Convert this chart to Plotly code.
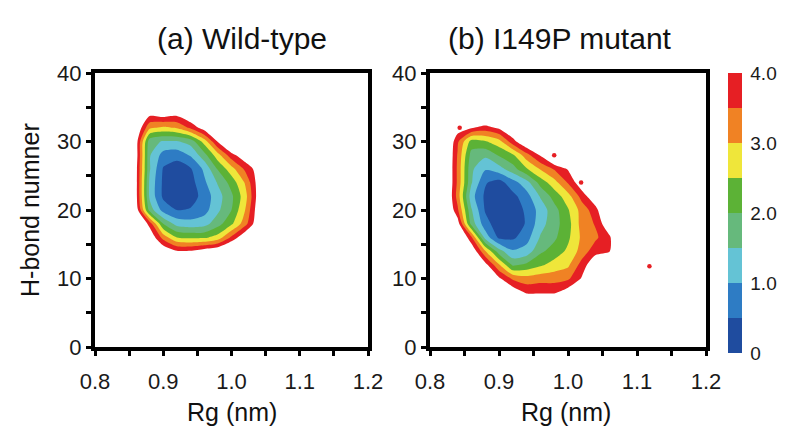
import numpy as np
import plotly.graph_objects as go

# ---------------- data ----------------
# Panel (a) Wild-type: free energy (kT) on a grid of Rg (nm) x H-bond number
rg_a = [0.84, 0.86, 0.88, 0.90, 0.92, 0.94, 0.96, 0.98, 1.00, 1.02, 1.04, 1.06]
hb_a = [12, 14, 16, 18, 20, 22, 24, 26, 28, 30, 32, 34, 36]
fe_a = [
    [5, 5, 5, 5, 5, 5, 5, 5, 5, 5, 5, 5],                                   # 12
    [5, 5, 5, 4.5, 4.05, 4.05, 4.3, 4.5, 5, 5, 5, 5],                       # 14
    [5, 5, 4.5, 3.3, 2.5, 2.4, 2.4, 2.7, 3.6, 4.5, 5, 5],                   # 16
    [5, 5, 3.8, 2.0, 1.3, 1.2, 1.3, 1.8, 2.4, 3.3, 4.5, 5],                 # 18
    [5, 4.4, 1.8, 0.8, 0.5, 0.55, 0.8, 1.4, 2.0, 3.0, 4.4, 5],              # 20
    [5, 4.2, 1.4, 0.4, 0.1, 0.25, 0.7, 1.3, 1.9, 2.8, 4.3, 5],              # 22
    [5, 4.2, 1.4, 0.4, 0.1, 0.3, 0.9, 1.55, 2.2, 3.05, 4.3, 5],             # 24
    [5, 4.2, 1.55, 0.45, 0.2, 0.45, 1.1, 2.05, 2.8, 3.6, 4.3, 5],           # 26
    [5, 4.3, 1.55, 0.8, 0.7, 1.05, 1.8, 2.8, 3.8, 4.4, 5, 5],               # 28
    [5, 4.3, 1.7, 1.45, 1.45, 1.7, 2.7, 4.05, 5, 5, 5, 5],                  # 30
    [5, 4.6, 3.1, 2.9, 3.05, 3.6, 4.3, 5, 5, 5, 5, 5],                      # 32
    [5, 4.8, 4.15, 4.3, 4.15, 4.6, 5, 5, 5, 5, 5, 5],                       # 34
    [5, 5, 5, 5, 5, 5, 5, 5, 5, 5, 5, 5],                                   # 36
]

# Panel (b) I149P mutant
rg_b = [0.82, 0.84, 0.86, 0.88, 0.90, 0.92, 0.94, 0.96, 0.98, 1.00, 1.02, 1.04, 1.06, 1.08]
hb_b = [4, 6, 8, 10, 12, 14, 16, 18, 20, 22, 24, 26, 28, 30, 32, 34, 36]
fe_b = [
    [5, 5, 5, 5, 5, 5, 5, 5, 5, 5, 5, 5, 5, 5],                               # 4
    [5, 5, 5, 5, 5, 5, 5, 5, 5, 5, 5, 5, 5, 5],                               # 6
    [5, 5, 5, 5, 5, 4.4, 3.9, 3.9, 3.9, 4.3, 5, 5, 5, 5],                     # 8
    [5, 5, 5, 5, 4.1, 3.4, 3.2, 3.3, 3.3, 3.4, 4.05, 5, 5, 5],                # 10
    [5, 5, 5, 4.2, 3.05, 1.9, 2.1, 2.4, 2.7, 2.9, 3.7, 4.5, 5, 5],            # 12
    [5, 5, 4.5, 3.05, 1.7, 1.05, 1.2, 1.9, 2.2, 2.6, 3.2, 3.8, 3.95, 5],      # 14
    [5, 5, 3.6, 1.3, 0.4, 0.4, 0.8, 1.55, 1.9, 2.4, 3.1, 3.4, 3.9, 5],        # 16
    [5, 4.3, 1.8, 0.7, 0.2, 0.2, 0.55, 1.3, 1.8, 2.3, 3.2, 3.55, 4.5, 5],     # 18
    [5, 3.6, 1.55, 0.45, 0.1, 0.2, 0.6, 1.2, 1.8, 2.45, 3.2, 3.8, 5, 5],      # 20
    [5, 3.3, 1.2, 0.4, 0.15, 0.35, 0.8, 1.55, 2.2, 2.8, 3.7, 4.5, 5, 5],      # 22
    [5, 3.4, 1.55, 0.55, 0.3, 0.8, 1.3, 2.2, 2.8, 3.55, 4.4, 5, 5, 5],        # 24
    [5, 3.4, 1.6, 1.05, 1.3, 1.8, 2.45, 3.05, 3.55, 4.05, 5, 5, 5, 5],        # 26
    [5, 3.45, 1.8, 1.6, 2.05, 2.4, 3.3, 4.05, 5, 5, 5, 5, 5, 5],              # 28
    [5, 3.6, 2.3, 2.45, 2.8, 3.8, 4.6, 5, 5, 5, 5, 5, 5, 5],                  # 30
    [5, 4.3, 4.05, 3.8, 4.1, 4.6, 5, 5, 5, 5, 5, 5, 5, 5],                    # 32
    [5, 5, 5, 5, 5, 5, 5, 5, 5, 5, 5, 5, 5, 5],                               # 34
    [5, 5, 5, 5, 5, 5, 5, 5, 5, 5, 5, 5, 5, 5],                               # 36
]

# isolated sampled states in panel (b)
dots_rg = [0.843, 0.980, 1.019, 1.118]
dots_hb = [32.0, 28.0, 24.0, 11.8]

band_colors = ["#1f4c9f", "#2e7cc4", "#64c3d5", "#66b97c",
               "#5cb236", "#efe63a", "#f08224", "#e61f24"]
cbar_vals = [0, 1, 2, 3, 4]
cbar_text = ["0", "1.0", "2.0", "3.0", "4.0"]
x_ticks = [0.8, 0.9, 1.0, 1.1, 1.2]
y_ticks = [0, 10, 20, 30, 40]

# ---------------- figure ----------------
W, H = 785, 434
OFF = 8          # the page body adds an 8 px margin around the figure
EMPTY = 5.0


def fx(px):
    return (px - OFF) / W


def fy(py):
    return 1 - (py - OFF) / H


def padded(x, y, z):
    # border of empty cells placed just outside the axis ranges
    xx = [0.78] + list(x) + [1.22]
    yy = [-2] + list(y) + [42]
    zz = np.pad(np.array(z, dtype=float), 1, constant_values=EMPTY)
    return xx, yy, zz


fill_scale = [[0.0, "#ffffff"]]
for i, c in enumerate(band_colors):
    fill_scale.append([(i + 1) / 9, c])
fill_scale.append([1.0, "#ffffff"])

cbar_scale = []
for i, c in enumerate(band_colors):
    cbar_scale.append([i / 8, c])
    cbar_scale.append([(i + 1) / 8, c])

contour_style = dict(
    autocontour=False,
    contours=dict(start=0, end=4, size=0.5, coloring="fill", showlines=False),
    colorscale=fill_scale,
    line=dict(width=0, smoothing=0.7),
    showscale=False,
    hoverinfo="skip",
)

fig = go.Figure()
xa, ya, za = padded(rg_a, hb_a, fe_a)
fig.add_trace(go.Contour(x=xa, y=ya, z=za, xaxis="x", yaxis="y", **contour_style))
xb, yb, zb = padded(rg_b, hb_b, fe_b)
fig.add_trace(go.Contour(x=xb, y=yb, z=zb, xaxis="x2", yaxis="y2", **contour_style))

fig.add_trace(go.Scatter(x=dots_rg, y=dots_hb, mode="markers", xaxis="x2", yaxis="y2",
                         marker=dict(color=band_colors[-1], size=4.5, line=dict(width=0)),
                         hoverinfo="skip", showlegend=False))

font_family = "Liberation Sans, Arial, sans-serif"

# colour bar
fig.add_trace(go.Scatter(
    x=[0.5, 0.5], y=[-50, -50], mode="markers", xaxis="x2", yaxis="y2",
    marker=dict(color=[0, 4], cmin=0, cmax=4, colorscale=cbar_scale, showscale=True, size=1,
                colorbar=dict(x=fx(728), xanchor="left", xref="paper",
                              y=fy(213), yanchor="middle", len=280 / H, lenmode="fraction",
                              thickness=14, thicknessmode="pixels", outlinewidth=0,
                              xpad=0, ypad=0,
                              tickmode="array", tickvals=cbar_vals, ticktext=cbar_text,
                              ticks="outside", ticklen=5, tickcolor="rgba(0,0,0,0)",
                              tickfont=dict(family=font_family, size=19, color="#1a1a1a"))),
    hoverinfo="skip", showlegend=False))

ax_common = dict(showline=True, linewidth=4, linecolor="black", mirror=True,
                 ticks="outside", ticklen=5, tickwidth=3, tickcolor="black",
                 showgrid=False, zeroline=False, automargin=False,
                 tickfont=dict(family=font_family, size=22, color="#1a1a1a"))

x_minor = dict(tickvals=[0.85, 0.95, 1.05, 1.15], ticks="outside", ticklen=5,
               tickwidth=3, tickcolor="black")
y_minor = dict(tickvals=[5, 15, 25, 35], ticks="outside", ticklen=5,
               tickwidth=3, tickcolor="black")

fig.update_layout(
    width=W, height=H,
    margin=dict(l=0, r=0, t=0, b=0, autoexpand=False),
    paper_bgcolor="white", plot_bgcolor="white",
    showlegend=False,
    xaxis=dict(domain=[fx(95), fx(368)], range=[0.8, 1.2], anchor="y",
               tickmode="array", tickvals=x_ticks, ticktext=[f"{v:.1f}" for v in x_ticks],
               ticklabelstandoff=7, minor=x_minor, **ax_common),
    yaxis=dict(domain=[fy(347), fy(73)], range=[0, 40], anchor="x",
               tickmode="array", tickvals=y_ticks, minor=y_minor, **ax_common),
    xaxis2=dict(domain=[fx(430), fx(706)], range=[0.8, 1.2], anchor="y2",
                tickmode="array", tickvals=x_ticks, ticktext=[f"{v:.1f}" for v in x_ticks],
                ticklabelstandoff=7, minor=x_minor, **ax_common),
    yaxis2=dict(domain=[fy(347), fy(73)], range=[0, 40], anchor="x2",
                tickmode="array", tickvals=y_ticks, minor=y_minor, **ax_common),
)

ann_font = dict(family=font_family, color="#111111")
annots = [
    dict(text="(a) Wild-type", x=fx(242), y=fy(38), size=30),
    dict(text="(b) I149P mutant", x=fx(560), y=fy(38), size=30),
    dict(text="Rg (nm)", x=fx(232), y=fy(412), size=25),
    dict(text="Rg (nm)", x=fx(566), y=fy(412), size=25),
]
for a in annots:
    fig.add_annotation(text=a["text"], x=a["x"], y=a["y"], xref="paper", yref="paper",
                       xanchor="center", yanchor="middle", showarrow=False,
                       font=dict(size=a["size"], **ann_font))
fig.add_annotation(text="H-bond numner", x=fx(30), y=fy(210), xref="paper", yref="paper",
                   xanchor="center", yanchor="middle", showarrow=False, textangle=-90,
                   font=dict(size=25, **ann_font))

fig.write_html("out.html")
